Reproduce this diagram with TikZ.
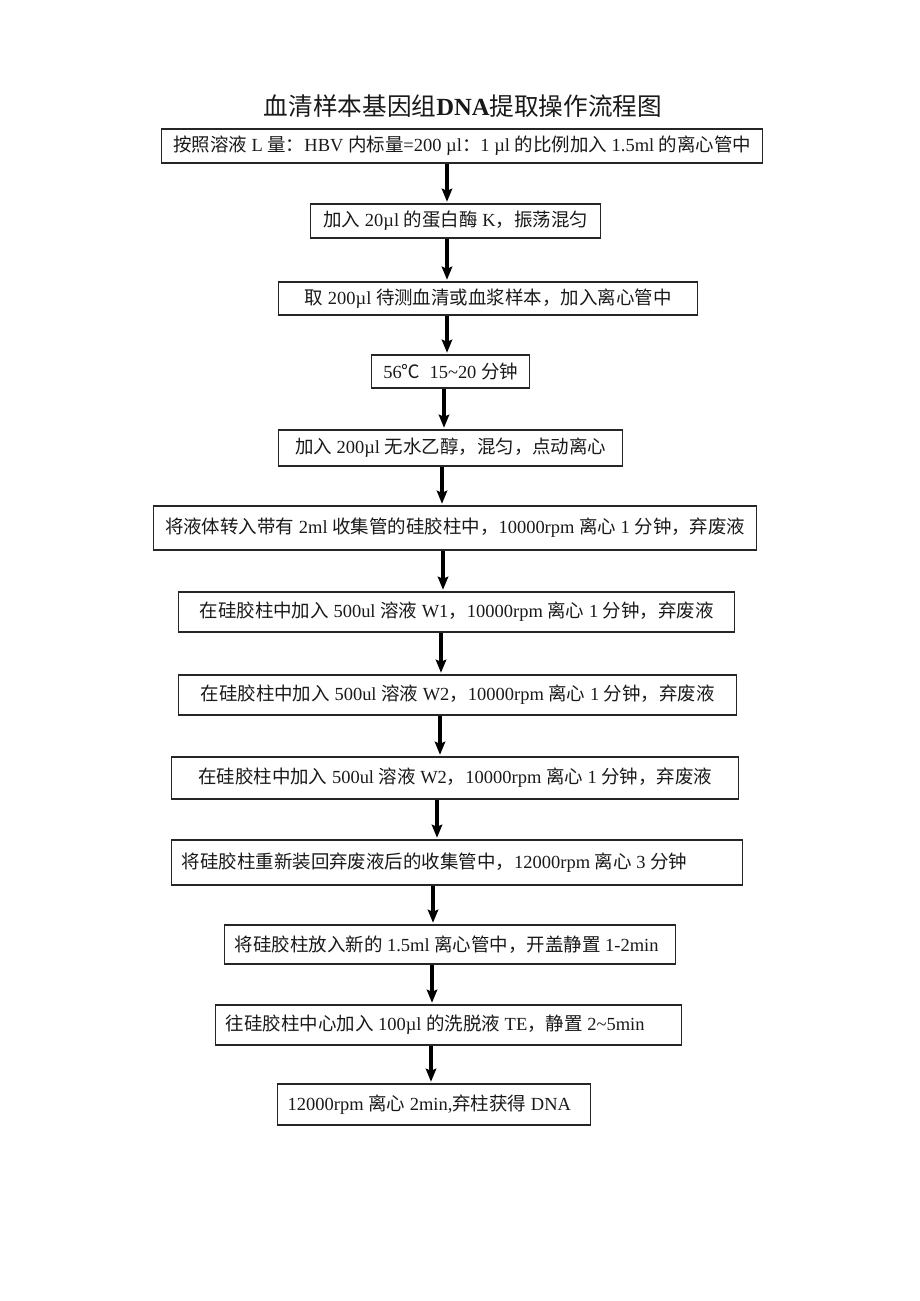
\documentclass[tikz,border=0pt]{standalone}
\usepackage{fontspec}
\setmainfont{Liberation Serif}
\newfontfamily\cjk{Noto Sans CJK SC}
\newcommand{\zh}[1]{{\cjk #1}}
\usetikzlibrary{arrows.meta,positioning}
\newdimen\pxu \pxu=0.2283mm

\begin{document}
\begin{tikzpicture}[x=0.2283mm,y=-0.2283mm,
  stepbox/.style={draw=black!85,line width=0.9pt,anchor=west,inner xsep=10\pxu,inner ysep=0pt,
    font=\fontsize{12pt}{14pt}\selectfont,text=black!90},
  leftbox/.style={stepbox,align=flush left,text width=#1\pxu},
  flowarrow/.style={line width=2pt,shorten >=1pt,-{Stealth[length=3mm,width=2.4mm,inset=0.5mm]}}]
  \useasboundingbox (0,0) rectangle (920,1301);

  \node[font=\fontsize{16pt}{19pt}\selectfont,text=black!90] (title) at (463,106)
    {\zh{血清样本基因组}\textbf{DNA}\zh{提取操作流程图}};

  % steps
  \node[stepbox,minimum width=601\pxu,minimum height=34\pxu] (b1) at (161,146)
    {\zh{按照溶液} L \zh{量：}HBV \zh{内标量}=200 µl\zh{：}1 µl \zh{的比例加入} 1.5ml \zh{的离心管中}};
  \node[stepbox,minimum width=290\pxu,minimum height=34\pxu] (b2) at (310,221)
    {\zh{加入} 20µl \zh{的蛋白酶} K\zh{，振荡混匀}};
  \node[stepbox,minimum width=419\pxu,minimum height=33\pxu] (b3) at (278,298.5)
    {\zh{取} 200µl \zh{待测血清或血浆样本，加入离心管中}};
  \node[stepbox,minimum width=158\pxu,minimum height=33\pxu] (b4) at (371,371.5)
    {56\zh{℃}\enspace 15\textasciitilde20 \zh{分钟}};
  \node[stepbox,minimum width=344\pxu,minimum height=36\pxu] (b5) at (278,448)
    {\zh{加入} 200µl \zh{无水乙醇，混匀，点动离心}};
  \node[stepbox,minimum width=603\pxu,minimum height=44\pxu] (b6) at (153,528)
    {\zh{将液体转入带有} 2ml \zh{收集管的硅胶柱中，}10000rpm \zh{离心} 1 \zh{分钟，弃废液}};
  \node[stepbox,minimum width=556\pxu,minimum height=40\pxu] (b7) at (178,612)
    {\zh{在硅胶柱中加入} 500ul \zh{溶液} W1\zh{，}10000rpm \zh{离心} 1 \zh{分钟，弃废液}};
  \node[stepbox,minimum width=558\pxu,minimum height=40\pxu] (b8) at (178,695)
    {\zh{在硅胶柱中加入} 500ul \zh{溶液} W2\zh{，}10000rpm \zh{离心} 1 \zh{分钟，弃废液}};
  \node[stepbox,minimum width=567\pxu,minimum height=42\pxu] (b9) at (171,778)
    {\zh{在硅胶柱中加入} 500ul \zh{溶液} W2\zh{，}10000rpm \zh{离心} 1 \zh{分钟，弃废液}};
  \node[leftbox=551,minimum height=45\pxu] (b10) at (171,862.5)
    {\zh{将硅胶柱重新装回弃废液后的收集管中，}12000rpm \zh{离心} 3 \zh{分钟}};
  \node[leftbox=431,minimum height=39\pxu] (b11) at (224,944.5)
    {\zh{将硅胶柱放入新的} 1.5ml \zh{离心管中，开盖静置} 1-2min};
  \node[leftbox=446,minimum height=40\pxu] (b12) at (215,1025)
    {\zh{往硅胶柱中心加入} 100µl \zh{的洗脱液} TE\zh{，静置} 2\textasciitilde5min};
  \node[leftbox=293,minimum height=41\pxu] (b13) at (277,1104.5)
    {12000rpm \zh{离心} 2min,\zh{弃柱获得} DNA};

  % arrows
  \foreach \a/\b/\x in {b1/b2/447,b2/b3/447,b3/b4/447,b4/b5/444,b5/b6/442,b6/b7/443,
      b7/b8/441,b8/b9/440,b9/b10/437,b10/b11/433,b11/b12/432,b12/b13/431}
    \draw[flowarrow] (\a.south -| \x,0) -- (\b.north -| \x,0);
\end{tikzpicture}
\end{document}
